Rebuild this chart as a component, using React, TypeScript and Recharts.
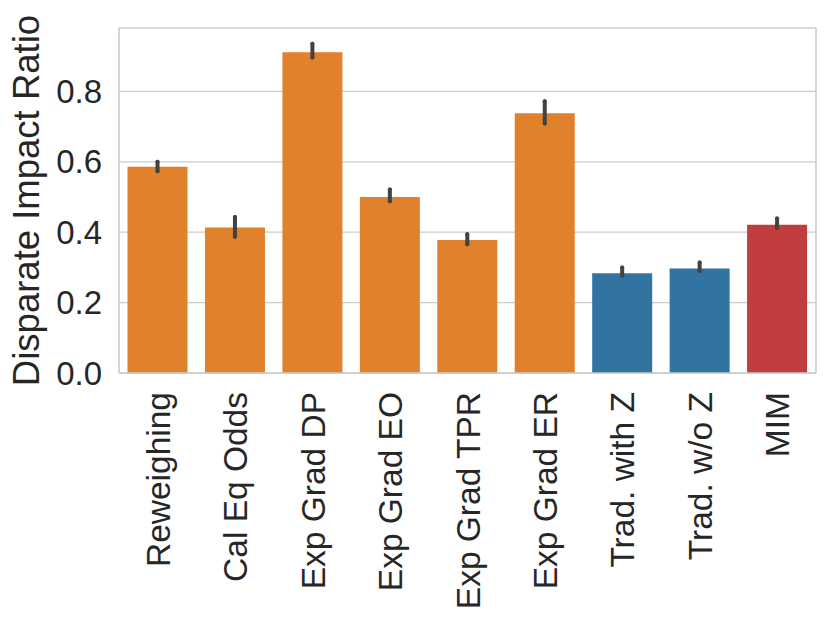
import { Bar, BarChart, CartesianGrid, Cell, ErrorBar, XAxis, YAxis } from "recharts";

const methods = [
  "Reweighing",
  "Cal Eq Odds",
  "Exp Grad DP",
  "Exp Grad EO",
  "Exp Grad TPR",
  "Exp Grad ER",
  "Trad. with Z",
  "Trad. w/o Z",
  "MIM",
];
const ratios = [0.586, 0.413, 0.911, 0.5, 0.378, 0.738, 0.283, 0.297, 0.421];
const ciLow = [0.573, 0.387, 0.896, 0.488, 0.366, 0.709, 0.277, 0.29, 0.412];
const ciHigh = [0.6, 0.443, 0.935, 0.521, 0.394, 0.772, 0.3, 0.314, 0.439];
const groups = ["fair", "fair", "fair", "fair", "fair", "fair", "trad", "trad", "mim"];
const yTicks = [0, 0.2, 0.4, 0.6, 0.8];
const Y_MAX = 0.98;

const GROUP_COLORS: Record<string, string> = {
  fair: "#e1812c",
  trad: "#3274a1",
  mim: "#c03d3e",
};
const GRID = "#cccccc";
const INK = "#262626";
const FONT = "'Liberation Sans', Arial, sans-serif";

const data = methods.map((name, i) => ({
  name,
  ratio: ratios[i],
  err: [ratios[i] - ciLow[i], ciHigh[i] - ratios[i]],
  group: groups[i],
}));

function RotatedTick(props: any) {
  const { x, y, payload } = props;
  return (
    <g transform={`translate(${x},${y})`}>
      <text transform="rotate(-90)" x={0} y={0} dy="0.36em" textAnchor="end" fill={INK} fontSize={33.5} fontFamily={FONT}>
        {payload.value}
      </text>
    </g>
  );
}

function YLabel(props: any) {
  const vb = props.viewBox ?? { y: 28, height: 345 };
  const cx = 26;
  const cy = vb.y + vb.height / 2;
  return (
    <text x={cx} y={cy} dy="0.36em" transform={`rotate(-90, ${cx}, ${cy})`} textAnchor="middle" fill={INK} fontSize={36.5} fontFamily={FONT}>
      Disparate Impact Ratio
    </text>
  );
}

export default function App() {
  return (
    <div style={{ position: "absolute", left: 0, top: 0, background: "#fff" }}>
      <BarChart width={830} height={624} data={data} margin={{ top: 28, right: 14, bottom: 0, left: 0 }} barCategoryGap="11%">
        <CartesianGrid stroke={GRID} strokeWidth={1.3} vertical={false} horizontalValues={yTicks} />
        {/* frame: top and right edges of the axes box */}
        <CartesianGrid
          stroke={GRID}
          strokeWidth={1.6}
          horizontalCoordinatesGenerator={({ offset }: any) => [offset.top]}
          verticalCoordinatesGenerator={({ offset }: any) => [offset.left + offset.width]}
        />
        <XAxis
          dataKey="name"
          height={251}
          interval={0}
          tick={<RotatedTick />}
          tickLine={false}
          tickSize={0}
          tickMargin={19}
          axisLine={{ stroke: GRID, strokeWidth: 1.6 }}
        />
        <YAxis
          width={119}
          domain={[0, Y_MAX]}
          ticks={yTicks}
          tickFormatter={v => Number(v).toFixed(1)}
          tick={{ fill: INK, fontSize: 33, fontFamily: FONT }}
          tickLine={false}
          tickSize={0}
          tickMargin={17}
          axisLine={{ stroke: GRID, strokeWidth: 1.6 }}
          label={<YLabel />}
        />
        <Bar dataKey="ratio" isAnimationActive={false}>
          {data.map(d => (
            <Cell key={d.name} fill={GROUP_COLORS[d.group]} />
          ))}
          <ErrorBar dataKey="err" width={0} stroke="#424242" strokeWidth={4} strokeLinecap="round" direction="y" isAnimationActive={false} />
        </Bar>
      </BarChart>
    </div>
  );
}
